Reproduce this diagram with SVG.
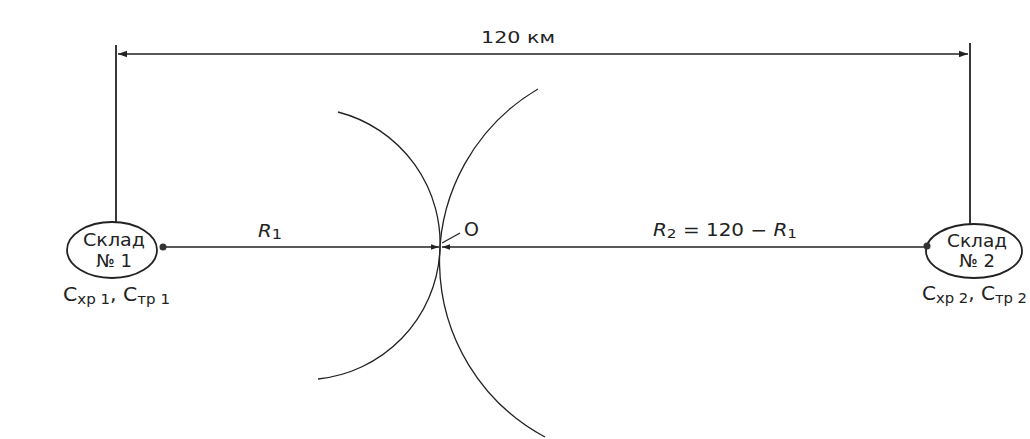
<svg xmlns="http://www.w3.org/2000/svg" width="1030" height="439" viewBox="0 0 1030 439">
<defs>
<style>
.ln{stroke:#222;stroke-width:1.8;fill:none}
.thin{stroke:#222;stroke-width:1.3;fill:none}
.t{font-family:"DejaVu Sans","Liberation Sans",Arial,sans-serif;fill:#222}
.i{font-style:italic}
</style>
<marker id="ah" viewBox="0 0 10 10" refX="10" refY="5" markerWidth="9" markerHeight="9" markerUnits="userSpaceOnUse" orient="auto-start-reverse">
<path d="M0,1.5 L10,5 L0,8.5 Z" fill="#222"/>
</marker>
<marker id="ah2" viewBox="0 0 10 10" refX="10" refY="5" markerWidth="10" markerHeight="8" markerUnits="userSpaceOnUse" orient="auto">
<path d="M0,1.5 L10,5 L0,8.5 Z" fill="#222"/>
</marker>
</defs>
<rect width="1030" height="439" fill="#fff"/>
<g id="connectors">
<line class="ln" x1="116" y1="45" x2="116" y2="222"/>
<line class="ln" x1="970" y1="43" x2="970" y2="225"/>
<line class="thin" x1="118" y1="54" x2="968" y2="54" marker-start="url(#ah)" marker-end="url(#ah)"/>
<line class="thin" x1="163" y1="247" x2="439" y2="247" marker-end="url(#ah2)"/>
<line class="thin" x1="927" y1="247" x2="442" y2="247" marker-end="url(#ah2)"/>
<path class="thin" d="M338,112 A136,136 0 0 1 318,379"/>
<path class="thin" d="M538,89 A199.5,199.5 0 0 0 545,437"/>
<line class="thin" x1="442" y1="243" x2="460" y2="233"/>
</g>
<g id="node1">
<ellipse class="ln" cx="112" cy="250" rx="45" ry="28" fill="#fff"/>
<circle cx="163" cy="247" r="3.5" fill="#333"/>
<text class="t" x="114" y="246" font-size="18" text-anchor="middle" textLength="62" lengthAdjust="spacingAndGlyphs">Склад</text>
<text class="t" x="114" y="267" font-size="18" text-anchor="middle">№ 1</text>
<text class="t" x="63" y="301" font-size="19" textLength="107" lengthAdjust="spacingAndGlyphs">C<tspan font-size="14" dy="3">хр 1</tspan><tspan dy="-3">, C</tspan><tspan font-size="14" dy="3">тр 1</tspan></text>
</g>
<g id="node2">
<ellipse class="ln" cx="974" cy="251" rx="48" ry="27" fill="#fff"/>
<circle cx="927" cy="246" r="3.5" fill="#333"/>
<text class="t" x="977" y="247" font-size="18" text-anchor="middle" textLength="60" lengthAdjust="spacingAndGlyphs">Склад</text>
<text class="t" x="977" y="267" font-size="18" text-anchor="middle">№ 2</text>
<text class="t" x="922" y="300" font-size="19" textLength="105" lengthAdjust="spacingAndGlyphs">C<tspan font-size="14" dy="3">хр 2</tspan><tspan dy="-3">, C</tspan><tspan font-size="14" dy="3">тр 2</tspan></text>
</g>
<g id="labels">
<text class="t" x="481" y="43" font-size="16" textLength="74" lengthAdjust="spacingAndGlyphs">120 км</text>
<text class="t" x="258" y="237" font-size="17" textLength="24" lengthAdjust="spacingAndGlyphs"><tspan class="i">R</tspan><tspan font-size="14" dy="2">1</tspan></text>
<text class="t" x="464" y="236" font-size="19">O</text>
<text class="t" x="653" y="236" font-size="17" textLength="144" lengthAdjust="spacingAndGlyphs"><tspan class="i">R</tspan><tspan font-size="13" dy="2">2</tspan><tspan dy="-2"> = 120 − </tspan><tspan class="i">R</tspan><tspan font-size="13" dy="2">1</tspan></text>
</g>
</svg>
